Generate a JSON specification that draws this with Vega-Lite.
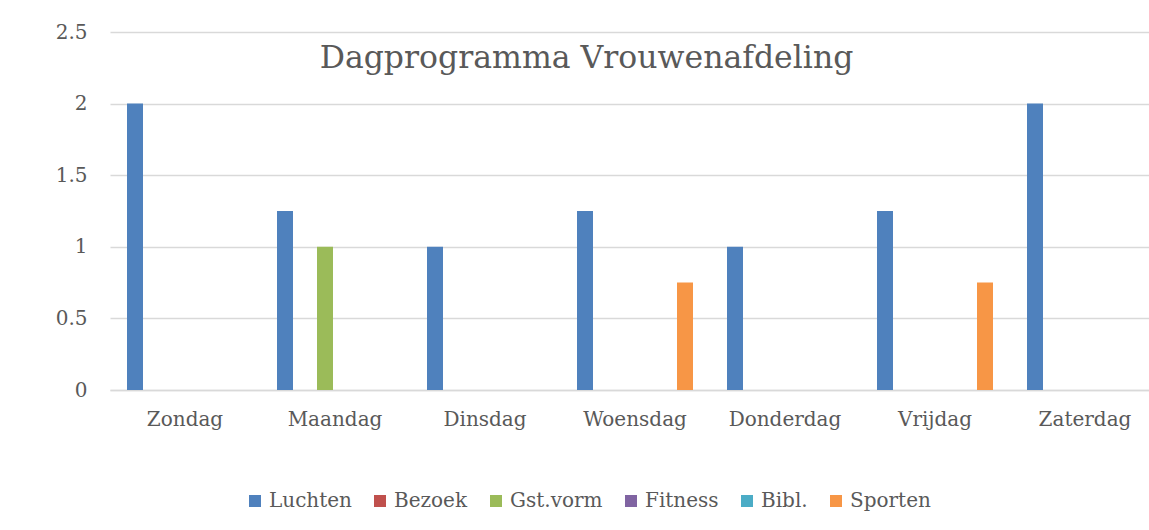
{
  "$schema": "https://vega.github.io/schema/vega-lite/v6.json",
  "width": 1039,
  "height": 358,
  "autosize": {"type": "none"},
  "padding": {"left": 110, "top": 32, "right": 0, "bottom": 140},
  "background": "white",
  "config": {"view": {"stroke": null}, "font": "DejaVu Serif"},
  "title": {
    "text": "Dagprogramma Vrouwenafdeling",
    "font": "DejaVu Serif",
    "fontSize": 31.5,
    "fontWeight": "normal",
    "color": "#595959",
    "anchor": "middle",
    "frame": "group",
    "dx": -43,
    "offset": -77,
    "baseline": "alphabetic"
  },
  "data": {
    "values": [
      {"dag": "Zondag", "activiteit": "Luchten", "uren": 2},
      {"dag": "Zondag", "activiteit": "Bezoek", "uren": 0},
      {"dag": "Zondag", "activiteit": "Gst.vorm", "uren": 0},
      {"dag": "Zondag", "activiteit": "Fitness", "uren": 0},
      {"dag": "Zondag", "activiteit": "Bibl.", "uren": 0},
      {"dag": "Zondag", "activiteit": "Sporten", "uren": 0},
      {"dag": "Maandag", "activiteit": "Luchten", "uren": 1.25},
      {"dag": "Maandag", "activiteit": "Bezoek", "uren": 0},
      {"dag": "Maandag", "activiteit": "Gst.vorm", "uren": 1},
      {"dag": "Maandag", "activiteit": "Fitness", "uren": 0},
      {"dag": "Maandag", "activiteit": "Bibl.", "uren": 0},
      {"dag": "Maandag", "activiteit": "Sporten", "uren": 0},
      {"dag": "Dinsdag", "activiteit": "Luchten", "uren": 1},
      {"dag": "Dinsdag", "activiteit": "Bezoek", "uren": 0},
      {"dag": "Dinsdag", "activiteit": "Gst.vorm", "uren": 0},
      {"dag": "Dinsdag", "activiteit": "Fitness", "uren": 0},
      {"dag": "Dinsdag", "activiteit": "Bibl.", "uren": 0},
      {"dag": "Dinsdag", "activiteit": "Sporten", "uren": 0},
      {"dag": "Woensdag", "activiteit": "Luchten", "uren": 1.25},
      {"dag": "Woensdag", "activiteit": "Bezoek", "uren": 0},
      {"dag": "Woensdag", "activiteit": "Gst.vorm", "uren": 0},
      {"dag": "Woensdag", "activiteit": "Fitness", "uren": 0},
      {"dag": "Woensdag", "activiteit": "Bibl.", "uren": 0},
      {"dag": "Woensdag", "activiteit": "Sporten", "uren": 0.75},
      {"dag": "Donderdag", "activiteit": "Luchten", "uren": 1},
      {"dag": "Donderdag", "activiteit": "Bezoek", "uren": 0},
      {"dag": "Donderdag", "activiteit": "Gst.vorm", "uren": 0},
      {"dag": "Donderdag", "activiteit": "Fitness", "uren": 0},
      {"dag": "Donderdag", "activiteit": "Bibl.", "uren": 0},
      {"dag": "Donderdag", "activiteit": "Sporten", "uren": 0},
      {"dag": "Vrijdag", "activiteit": "Luchten", "uren": 1.25},
      {"dag": "Vrijdag", "activiteit": "Bezoek", "uren": 0},
      {"dag": "Vrijdag", "activiteit": "Gst.vorm", "uren": 0},
      {"dag": "Vrijdag", "activiteit": "Fitness", "uren": 0},
      {"dag": "Vrijdag", "activiteit": "Bibl.", "uren": 0},
      {"dag": "Vrijdag", "activiteit": "Sporten", "uren": 0.75},
      {"dag": "Zaterdag", "activiteit": "Luchten", "uren": 2},
      {"dag": "Zaterdag", "activiteit": "Bezoek", "uren": 0},
      {"dag": "Zaterdag", "activiteit": "Gst.vorm", "uren": 0},
      {"dag": "Zaterdag", "activiteit": "Fitness", "uren": 0},
      {"dag": "Zaterdag", "activiteit": "Bibl.", "uren": 0},
      {"dag": "Zaterdag", "activiteit": "Sporten", "uren": 0}
    ]
  },
  "mark": {"type": "bar"},
  "encoding": {
    "x": {
      "field": "dag",
      "type": "nominal",
      "sort": ["Zondag", "Maandag", "Dinsdag", "Woensdag", "Donderdag", "Vrijdag", "Zaterdag"],
      "scale": {"range": [0, 1050], "paddingInner": 0, "paddingOuter": 0},
      "axis": {
        "title": null,
        "labelAngle": 0,
        "ticks": false,
        "domainColor": "#D9D9D9",
        "domainWidth": 1.5,
        "labelFont": "DejaVu Serif",
        "labelFontSize": 20,
        "labelColor": "#595959",
        "labelPadding": 19
      }
    },
    "xOffset": {
      "field": "activiteit",
      "type": "nominal",
      "sort": ["Luchten", "Bezoek", "Gst.vorm", "Fitness", "Bibl.", "Sporten"],
      "scale": {"paddingInner": 0.2, "paddingOuter": 0.85}
    },
    "y": {
      "field": "uren",
      "type": "quantitative",
      "scale": {"domain": [0, 2.5], "nice": false},
      "axis": {
        "title": null,
        "values": [0, 0.5, 1, 1.5, 2, 2.5],
        "format": "~g",
        "domain": false,
        "ticks": false,
        "gridColor": "#D9D9D9",
        "gridWidth": 1.5,
        "labelFont": "DejaVu Serif",
        "labelFontSize": 20,
        "labelColor": "#595959",
        "labelPadding": 23
      }
    },
    "color": {
      "field": "activiteit",
      "type": "nominal",
      "sort": ["Luchten", "Bezoek", "Gst.vorm", "Fitness", "Bibl.", "Sporten"],
      "scale": {
        "domain": ["Luchten", "Bezoek", "Gst.vorm", "Fitness", "Bibl.", "Sporten"],
        "range": ["#4F81BD", "#C0504D", "#9BBB59", "#8064A2", "#4BACC6", "#F79646"]
      },
      "legend": {
        "title": null,
        "orient": "none",
        "direction": "horizontal",
        "legendX": 135,
        "legendY": 459,
        "symbolType": "square",
        "symbolSize": 144,
        "symbolStrokeWidth": 0,
        "labelFont": "DejaVu Serif",
        "labelFontSize": 20,
        "labelColor": "#595959",
        "labelOffset": 4,
        "columnPadding": 18
      }
    }
  }
}
